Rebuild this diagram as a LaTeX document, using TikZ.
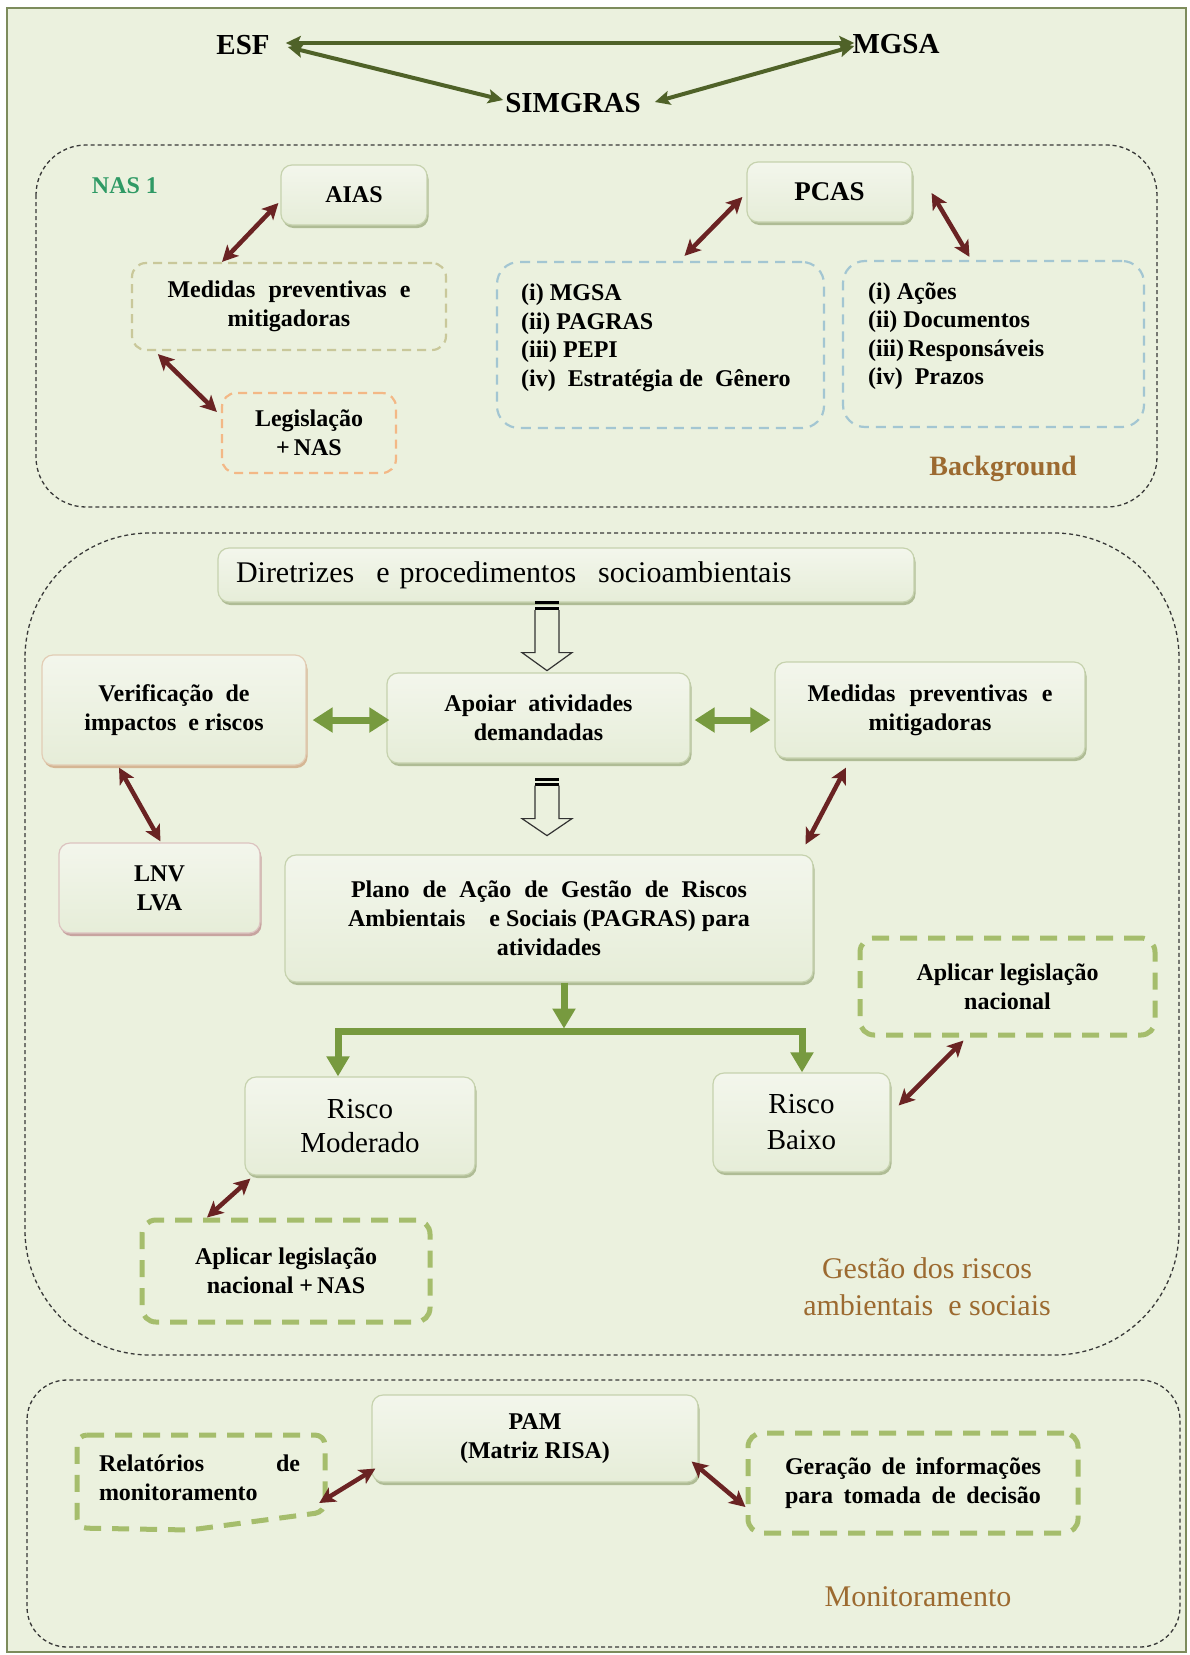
\documentclass[tikz,border=0pt]{standalone}
\usepackage{fontspec}
\setmainfont{Liberation Serif}
\usetikzlibrary{arrows.meta,shadows,calc}
\definecolor{bgc}{HTML}{EBF1DE}
\definecolor{framec}{HTML}{7D8C5C}
\definecolor{boxline}{HTML}{C6D2AE}
\definecolor{verifline}{HTML}{E2CDB5}
\definecolor{lnvline}{HTML}{DCC3C0}
\definecolor{boxtop}{HTML}{F3F6EC}
\definecolor{boxbot}{HTML}{E6EDD8}
\definecolor{shgreen}{HTML}{A9B78E}
\definecolor{shbrown}{HTML}{D3B08C}
\definecolor{shred}{HTML}{C49C9A}
\definecolor{redc}{HTML}{6A2323}
\definecolor{topc}{HTML}{4F6228}
\definecolor{gc}{HTML}{779A3F}
\definecolor{gdc}{HTML}{A5BD6C}
\definecolor{khaki}{HTML}{C9C89A}
\definecolor{orangec}{HTML}{F3B886}
\definecolor{bluec}{HTML}{A3C6D2}
\definecolor{labc}{HTML}{9C6A30}
\definecolor{nasc}{HTML}{2F9A65}
\begin{document}
\begin{tikzpicture}[x=1pt,y=-1pt,
 body/.style={font=\bfseries\fontsize{24}{29}\selectfont, align=center, inner sep=0pt, text=black},
 sbox/.style={body, draw=boxline, line width=1.2pt, top color=boxtop, bottom color=boxbot, rounded corners=11pt,
   drop shadow={shadow xshift=1.5pt, shadow yshift=-3pt, fill=#1, opacity=0.9}},
 sbox/.default=shgreen,
 dbox/.style={body, line width=2.2pt, dash pattern=on 9pt off 6pt, rounded corners=14pt},
 lbox/.style={draw=bluec, line width=2.2pt, dash pattern=on 10pt off 7pt, rounded corners=22pt, inner sep=0pt},
 gdbox/.style={body, draw=gdc, line width=5pt, dash pattern=on 17pt off 11pt, rounded corners=14pt},
 gdash/.style={draw=gdc, line width=5pt, dash pattern=on 17pt off 11pt},
 cont/.style={draw=black!78, line width=1.3pt, dash pattern=on 4pt off 3pt},
 toplab/.style={font=\bfseries\fontsize{29}{32}\selectfont, inner sep=2pt},
 lab/.style={text=labc, align=center, inner sep=0pt},
 toparr/.style={draw=topc, line width=4pt, arrows={Stealth[length=15pt,width=14pt,inset=3pt]-Stealth[length=15pt,width=14pt,inset=3pt]}},
 redarr/.style={draw=redc, line width=4.5pt, arrows={Stealth[length=16pt,width=16pt,inset=4pt]-Stealth[length=16pt,width=16pt,inset=4pt]}},
 garr/.style={draw=gc, line width=7pt, arrows={Triangle[length=20pt,width=24pt]-Triangle[length=20pt,width=24pt]}},
 gflow/.style={draw=gc, line width=7pt},
 hollow/.style={draw=black!80, line width=1.2pt}
]
\useasboundingbox (0,0) rectangle (1190,1655);
\fill[white] (0,0) rectangle (1190,1655);
\draw[framec, line width=2pt, fill=bgc] (7,8) rectangle (1186,1652);

% ---------- top triangle
\node[toplab] (esf) at (243,45) {ESF};
\node[toplab] (mgsa) at (896,44) {MGSA};
\node[toplab] (simgras) at (573,103) {SIMGRAS};
\draw[toparr] ($(esf.east)+(14,-2)$) -- ($(mgsa.west)+(4,-1)$);
\draw[toparr] ($(esf.east)+(16,2)$) -- ($(simgras.west)+(0,-3)$);
\draw[toparr] ($(simgras.east)+(12,-1)$) -- ($(mgsa.west)+(4,2)$);

% ---------- containers
\draw[cont, rounded corners=50pt] (36,145) rectangle (1157,507);
\draw[cont, rounded corners=125pt] (25,533) rectangle (1179,1355);
\draw[cont, rounded corners=40pt] (27,1380) rectangle (1180,1647);

% ---------- Background section
\node[lab, text=nasc, font=\bfseries\fontsize{24}{28}\selectfont] (nas) at (125,186) {NAS 1};
\node[sbox, minimum width=146pt, minimum height=60pt] (aias) at (354,195) {AIAS};
\node[dbox, draw=khaki, minimum width=314pt, minimum height=87pt] (med1) at (289,306.5)
  {\makebox[243pt][s]{Medidas preventivas e}\\mitigadoras};
\node[dbox, draw=orangec, minimum width=174pt, minimum height=80pt] (legis) at (309,433)
  {Legislação\\+\,NAS};
\node[sbox, font=\bfseries\fontsize{27}{30}\selectfont, minimum width=165pt, minimum height=60pt] (pcas) at (829.5,192) {PCAS};
\node[lbox, minimum width=327pt, minimum height=166pt] (list1) at (660.5,345) {};
\node[body, align=left, anchor=west, font=\bfseries\fontsize{24}{28.5}\selectfont] (list1t) at ($(list1.west)+(25,-7)$)
  {(i) MGSA\\(ii) PAGRAS\\(iii) PEPI\\(iv)\ \ Estratégia de\ \ Gênero};
\node[lbox, minimum width=301pt, minimum height=166pt] (list2) at (993.5,344) {};
\node[body, align=left, anchor=west, font=\bfseries\fontsize{24}{28.5}\selectfont] (list2t) at ($(list2.west)+(26,-8)$)
  {(i) Ações\\(ii) Documentos\\(iii)\,Responsáveis\\(iv)\ \ Prazos};
\node[lab, font=\bfseries\fontsize{28}{32}\selectfont] (bglab) at (1003,469) {Background};

\draw[redarr] ($(aias.west)+(-2,8)$) -- ($(med1.north)+(-67,0)$);
\draw[redarr] ($(med1.south west)+(27,3)$) -- ($(legis.west)+(-4,-21)$);
\draw[redarr] ($(pcas.west)+(-4,5)$) -- ($(list1.north)+(24,-5)$);
\draw[redarr] ($(pcas.east)+(19,1)$) -- ($(list2.north)+(-24,-3)$);

% ---------- Gestao section
\node[sbox, font=\fontsize{30}{34}\selectfont, align=left, text width=660pt, minimum width=696pt, minimum height=54pt] (diret) at (566,575)
  {Diretrizes\hspace{12pt} e procedimentos\hspace{12pt} socioambientais};
\node[sbox=shbrown, draw=verifline, minimum width=264pt, minimum height=110pt] (verif) at (174,710)
  {Verificação\ \ de\\impactos\ \ e riscos};
\node[sbox, minimum width=303pt, minimum height=90pt] (apoiar) at (538.5,718)
  {Apoiar\ \ atividades\\demandadas};
\node[sbox, minimum width=310pt, minimum height=96pt] (med2) at (930,710)
  {\makebox[245pt][s]{Medidas preventivas e}\\mitigadoras};
\node[sbox=shred, draw=lnvline, minimum width=201pt, minimum height=90pt] (lnv) at (159.5,888) {LNV\\LVA};
\node[sbox, minimum width=528pt, minimum height=127pt] (plano) at (549,918.5)
  {\makebox[396pt][s]{Plano de Ação de Gestão de Riscos}\\\makebox[402pt][s]{Ambientais\quad e Sociais (PAGRAS) para}\\atividades};
\node[gdbox, minimum width=295pt, minimum height=97pt] (apl1) at (1007.5,986.5) {Aplicar legislação\\nacional};
\node[sbox, font=\fontsize{29}{34}\selectfont, minimum width=230pt, minimum height=98pt] (rm) at (360,1126) {Risco\\Moderado};
\node[sbox, font=\fontsize{29}{36}\selectfont, minimum width=177pt, minimum height=99pt] (rb) at (801.5,1122.5) {Risco\\Baixo};
\node[gdbox, minimum width=288pt, minimum height=102pt] (apl2) at (286,1271) {Aplicar legislação\\nacional +\,NAS};
\node[lab, font=\fontsize{30}{37}\selectfont] (gestlab) at (927,1287) {Gestão dos riscos\\ambientais\ \ e sociais};

% hollow arrows
\coordinate (h1) at ($(diret.south)+(-19,0)$);
\fill[black] ($(h1)+(-12,-2)$) rectangle ($(h1)+(12,1.5)$);
\fill[black] ($(h1)+(-12,4.5)$) rectangle ($(h1)+(12,7.5)$);
\draw[hollow] ($(h1)+(-12,7.5)$) -- ($(h1)+(-12,50)$) -- ($(h1)+(-25,50)$) -- ($(h1)+(0,68)$)
  -- ($(h1)+(25,50)$) -- ($(h1)+(12,50)$) -- ($(h1)+(12,7.5)$);
\coordinate (h2) at ($(apoiar.south)+(8.5,0)$);
\fill[black] ($(h2)+(-12,14)$) rectangle ($(h2)+(12,17.5)$);
\fill[black] ($(h2)+(-12,19.5)$) rectangle ($(h2)+(12,22)$);
\draw[hollow] ($(h2)+(-12,22)$) -- ($(h2)+(-12,55)$) -- ($(h2)+(-25,55)$) -- ($(h2)+(0,72)$)
  -- ($(h2)+(25,55)$) -- ($(h2)+(12,55)$) -- ($(h2)+(12,22)$);

\draw[garr] ($(verif.east)+(6,10)$) -- ($(apoiar.west)+(3,2)$);
\draw[garr] ($(apoiar.east)+(4,2)$) -- ($(med2.west)+(-4,10)$);

\draw[redarr] ($(verif.south)+(-55,2)$) -- ($(lnv.north)+(1,-1)$);
\draw[redarr] ($(med2.south)+(-84,9)$) -- ($(plano.north east)+(-8,-10)$);
\draw[redarr] ($(rm.south west)+(6,3)$) -- ($(apl2.north)+(-79,0)$);
\draw[redarr] ($(apl1.south)+(-44,3)$) -- ($(rb.east)+(8,-17)$);

% green split
\coordinate (bl) at ($(rm.north)+(-22,-45)$);
\coordinate (br) at ($(rb.north)+(0.5,-41)$);
\draw[gflow, arrows={-Triangle[length=20pt,width=22pt]}] ($(plano.south)+(15,0)$) -- ($(plano.south)+(15,46)$);
\draw[gflow, line join=miter, arrows={Triangle[length=20pt,width=22pt]-Triangle[length=20pt,width=22pt]}]
  (rm.north -| bl) -- (bl) -- (br) -- (rb.north -| br);

% ---------- Monitoramento section
\node[sbox, minimum width=326pt, minimum height=87pt] (pam) at (535,1438.5) {PAM\\(Matriz RISA)};
\draw[gdash, rounded corners=10pt] (77,1435) -- (325,1435) -- (325,1512) -- (190,1530) -- (77,1528) -- cycle;
\node[body, align=left, text width=201pt] (rel) at (199.5,1478) {\makebox[201pt]{Relatórios\hfill de}\\monitoramento};
\node[gdbox, minimum width=330pt, minimum height=100pt] (ger) at (913,1483)
  {\makebox[256pt][s]{Geração de informações}\\\makebox[256pt][s]{para tomada de decisão}};
\node[lab, font=\fontsize{30}{34}\selectfont] (monlab) at (918,1597) {Monitoramento};

\draw[redarr] ($(pam.west)+(4,30)$) -- ($(rel.east)+(19,25)$);
\draw[redarr] ($(pam.east)+(-7,23)$) -- ($(ger.west)+(0,24)$);
\end{tikzpicture}
\end{document}
